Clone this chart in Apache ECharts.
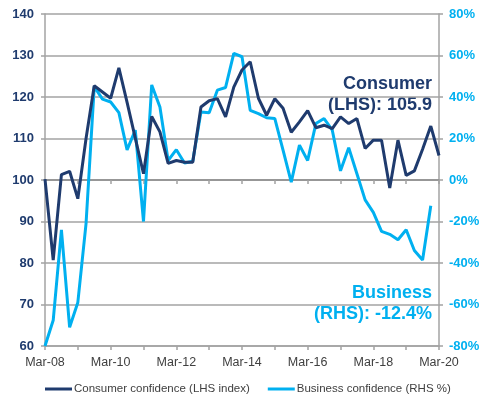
<!DOCTYPE html>
<html>
<head>
<meta charset="utf-8">
<script src="https://cdn.jsdelivr.net/npm/echarts@6/dist/echarts.min.js"></script>
<style>
html,body{margin:0;padding:0;background:#fff;}
#main{width:502px;height:401px;}
</style>
</head>
<body>
<div id="main"></div>
<script>
// Quarterly categories Mar-08 .. Mar-20
var quarters = [];
var months = ['Mar','Jun','Sep','Dec'];
for (var y = 8; y <= 20; y++) {
  for (var q = 0; q < 4; q++) {
    if (y === 20 && q > 0) break;
    quarters.push(months[q] + '-' + (y < 10 ? '0' + y : '' + y));
  }
}

var consumerName = 'Consumer confidence (LHS index)';
var businessName = 'Business confidence (RHS %)';

var consumer = [100.2, 80.7, 101.3, 102.1, 95.5, 110, 122.7, 121.2, 119.7, 127,
  118.7, 110.1, 101.5, 115.3, 111.6, 104, 104.7, 104.3, 104.3, 117.6,
  119.1, 119.6, 115.2, 122.4, 126.5, 128.5, 119.7, 115.6, 119.6, 117.3,
  111.5, 114, 116.7, 112.6, 113.2, 112.4, 115.2, 113.6, 114.8, 107.6,
  109.6, 109.6, 98.1, 109.6, 101.1, 102.2, 107.4, 113, 105.9];

var business = [-80, -67.6, -24, -71, -59, -21, 45, 39, 37.6, 32.5,
  14.5, 24, -20, 45.8, 35.2, 9.4, 14.6, 8.2, 9, 32.8,
  32.4, 43.3, 44.6, 61, 59.4, 33.6, 32, 30, 29.6, 14.4,
  -1, 16.8, 9.4, 27.2, 29.6, 24, 4.4, 15.6, 3, -9.6,
  -15.6, -24.8, -26.2, -28.8, -24, -34, -38.6, -12.4, null];

var lhsMin = 60, lhsMax = 140, lhsStep = 10;
var rhsMin = -80, rhsMax = 80, rhsStep = 20;

var navy = '#1F3B6E';
var sky = '#00B0F0';
var gridGray = '#A3A3A3';
var font = 'Liberation Sans, Arial, sans-serif';

var chart = echarts.init(document.getElementById('main'), null, {renderer: 'canvas'});
chart.setOption({
  animation: false,
  backgroundColor: '#fff',
  grid: {left: 45, right: 63, top: 14, bottom: 55},
  legend: {
    data: [consumerName, businessName],
    left: 45, top: 383, padding: 0,
    icon: 'rect', itemWidth: 27, itemHeight: 3, itemGap: 18,
    textStyle: {color: '#404040', fontSize: 11.5, fontFamily: font, padding: [0, 0, 0, -3]}
  },
  xAxis: [{
    type: 'category', data: quarters, boundaryGap: false, position: 'bottom',
    axisLine: {show: true, onZero: false, lineStyle: {color: gridGray, width: 1.5}},
    axisTick: {show: true, interval: 3, length: 4, lineStyle: {color: gridGray, width: 1.5}},
    axisLabel: {interval: 7, color: '#404040', fontSize: 12.5, fontFamily: font, margin: 10},
    splitLine: {show: false}
  }, {
    type: 'category', data: quarters, boundaryGap: false, position: 'bottom', offset: -166,
    axisLine: {show: true, onZero: false, lineStyle: {color: '#8C8C8C', width: 1.5}},
    axisTick: {show: true, interval: 3, length: 4, lineStyle: {color: gridGray, width: 1.5}},
    axisLabel: {show: false},
    splitLine: {show: false}
  }],
  yAxis: [{
    type: 'value', min: lhsMin, max: lhsMax, interval: lhsStep, position: 'left',
    axisLine: {show: true, lineStyle: {color: gridGray, width: 1.5}},
    axisTick: {show: true, length: 4, lineStyle: {color: gridGray, width: 1.5}},
    axisLabel: {color: navy, fontSize: 13, fontWeight: 'bold', fontFamily: font, margin: 11},
    splitLine: {show: true, lineStyle: {color: gridGray, width: 1.5}}
  }, {
    type: 'value', min: rhsMin, max: rhsMax, interval: rhsStep, position: 'right',
    axisLine: {show: true, lineStyle: {color: gridGray, width: 1.5}},
    axisTick: {show: true, length: 4, lineStyle: {color: gridGray, width: 1.5}},
    axisLabel: {color: sky, fontSize: 13, fontWeight: 'bold', fontFamily: font, margin: 10, formatter: '{value}%'},
    splitLine: {show: false}
  }],
  series: [{
    name: consumerName, type: 'line', xAxisIndex: 0, yAxisIndex: 0, data: consumer,
    showSymbol: false, symbol: 'none', z: 3,
    lineStyle: {color: navy, width: 3}, itemStyle: {color: navy}
  }, {
    name: businessName, type: 'line', xAxisIndex: 0, yAxisIndex: 1, data: business,
    showSymbol: false, symbol: 'none', z: 2,
    lineStyle: {color: sky, width: 3}, itemStyle: {color: sky}
  }],
  graphic: [{
    type: 'text', right: 70, top: 74,
    style: {text: 'Consumer\n(LHS): 105.9', fill: navy, font: 'bold 18px ' + font, textAlign: 'right', lineHeight: 21}
  }, {
    type: 'text', right: 70, top: 283,
    style: {text: 'Business\n(RHS): -12.4%', fill: sky, font: 'bold 18px ' + font, textAlign: 'right', lineHeight: 21}
  }]
});
</script>
</body>
</html>
